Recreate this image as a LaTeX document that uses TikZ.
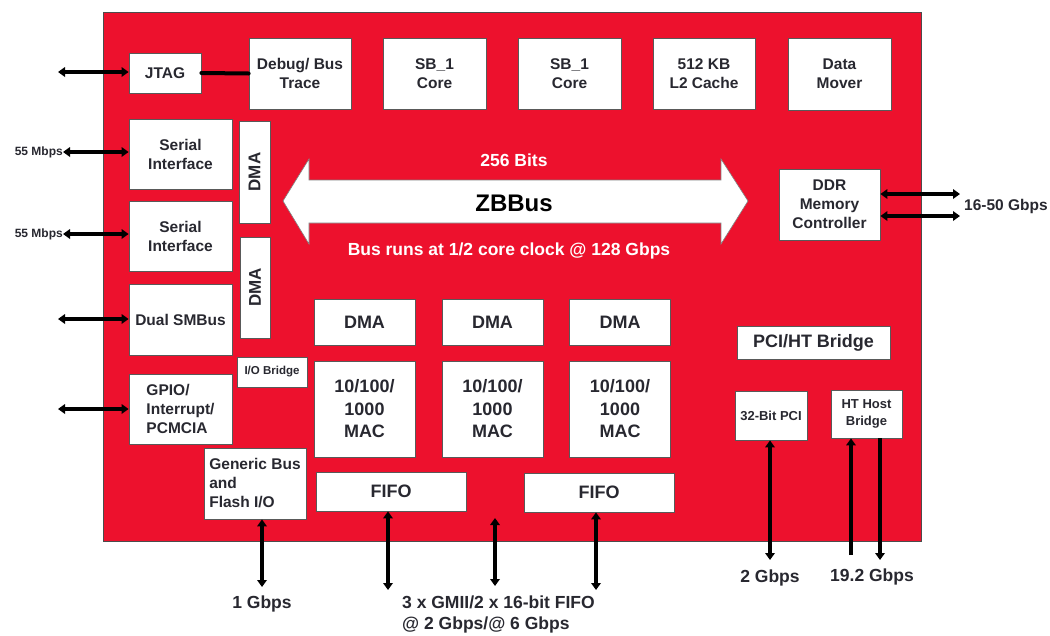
\documentclass[tikz,border=0pt]{standalone}
\usepackage{fontspec}
\setmainfont{Liberation Sans}
\usetikzlibrary{arrows.meta}
\definecolor{chipred}{RGB}{237,17,45}
\definecolor{txt}{RGB}{40,40,48}
\begin{document}
\begin{tikzpicture}[x=1pt,y=-1pt,
  box/.style={draw=black!65, line width=0.8pt, fill=white, inner sep=1pt, text=txt,
    font=\bfseries\fontsize{15.5}{19}\selectfont, align=center},
  bigbox/.style={box, font=\bfseries\fontsize{18}{22.5}\selectfont},
  smallbox/.style={box, font=\bfseries\fontsize{13.5}{17}\selectfont},
  tinybox/.style={box, font=\bfseries\fontsize{11.5}{14}\selectfont},
  tip/.tip={Triangle[length=7pt,width=9.5pt]},
  link/.style={line width=4pt, tip-tip},
  uplink/.style={line width=4.5pt, -tip},
  lbl/.style={text=txt, inner sep=0pt, font=\bfseries\fontsize{17.5}{21}\selectfont},
  midlbl/.style={text=txt, inner sep=0pt, font=\bfseries\fontsize{15.5}{19}\selectfont},
  smalllbl/.style={text=txt, inner sep=0pt, font=\bfseries\fontsize{12}{14}\selectfont},
  buslbl/.style={text=white, inner sep=0pt, font=\bfseries\fontsize{17.5}{21}\selectfont}
]
\useasboundingbox (0,0) rectangle (1050,635);
\fill[white] (0,0) rectangle (1050,635);
% chip body
\draw[fill=chipred, draw=black!70, line width=1pt] (103,12) rectangle (921,541);

% top row
\node[box, minimum width=72pt, minimum height=40pt] (jtag) at (165,73) {JTAG};
\node[box, minimum width=102pt, minimum height=71pt] (debug) at (300,73.5) {Debug/ Bus\\Trace};
\node[box, minimum width=103pt, minimum height=71pt] (sb1) at (434.5,73.5) {SB\_1\\Core};
\node[box, minimum width=103pt, minimum height=71pt] (sb2) at (569.5,73.5) {SB\_1\\Core};
\node[box, minimum width=102pt, minimum height=71pt] (l2) at (704,73.5) {512 KB\\L2 Cache};
\node[box, minimum width=103pt, minimum height=72pt] (mover) at (839.5,74) {Data\\Mover};

% left column
\node[box, minimum width=103pt, minimum height=70pt] (ser1) at (180.5,154) {Serial\\Interface};
\node[box, minimum width=31pt, minimum height=102pt] (dmav1) at (254.5,172) {\fontsize{17}{20}\selectfont\rotatebox{90}{DMA}};
\node[box, minimum width=103pt, minimum height=70pt] (ser2) at (180.5,236) {Serial\\Interface};
\node[box, minimum width=30pt, minimum height=101pt] (dmav2) at (255,287.5) {\fontsize{17}{20}\selectfont\rotatebox{90}{DMA}};
\node[box, minimum width=103pt, minimum height=71pt] (smbus) at (180.5,319.5) {Dual SMBus};
\node[tinybox, minimum width=70pt, minimum height=30pt] (iobr) at (272,372) {I/O Bridge};
\node[box, minimum width=103pt, minimum height=70pt, align=left] (gpio) at (180.5,409) {GPIO/\\Interrupt/\\PCMCIA};
\node[box, minimum width=102pt, minimum height=71pt, align=left] (gen) at (255,483.5) {Generic Bus\\and\\Flash I/O};

% ZBBus
\draw[fill=white, draw=black!50, line width=0.6pt]
  (283,201) -- (309,159) -- (309,180) -- (721,180) -- (721,159) -- (748,201)
  -- (721,244) -- (721,223) -- (309,223) -- (309,244) -- cycle;
\node[inner sep=0pt, font=\bfseries\fontsize{24}{28}\selectfont, text=black] (zb) at (514,203) {ZBBus};
\node[buslbl] (bits) at (514,160) {256 Bits};
\node[buslbl] (runs) at (509,251) {Bus runs at 1/2 core clock @ 128 Gbps};

% DDR
\node[box, minimum width=101pt, minimum height=71pt] (ddr) at (829.5,204.5) {DDR\\Memory\\Controller};

% Ethernet blocks
\node[bigbox, minimum width=101pt, minimum height=46pt] (dma1) at (364.5,322) {DMA};
\node[bigbox, minimum width=101pt, minimum height=46pt] (dma2) at (492.5,322) {DMA};
\node[bigbox, minimum width=101pt, minimum height=46pt] (dma3) at (620,322) {DMA};
\node[bigbox, minimum width=101pt, minimum height=96pt] (mac1) at (364.5,409) {10/100/\\1000\\MAC};
\node[bigbox, minimum width=101pt, minimum height=96pt] (mac2) at (492.5,409) {10/100/\\1000\\MAC};
\node[bigbox, minimum width=101pt, minimum height=96pt] (mac3) at (620,409) {10/100/\\1000\\MAC};
\node[bigbox, minimum width=150pt, minimum height=39pt] (fifo1) at (391,491.5) {FIFO};
\node[bigbox, minimum width=150pt, minimum height=39pt] (fifo2) at (599,492.5) {FIFO};

% PCI / HT
\node[bigbox, minimum width=153pt, minimum height=33pt] (pcibr) at (813.5,342.5) {PCI/HT Bridge};
\node[tinybox, font=\bfseries\fontsize{13}{16}\selectfont, minimum width=72pt, minimum height=49pt] (pci) at (771,415.5) {32-Bit PCI};
\node[tinybox, font=\bfseries\fontsize{13}{16.5}\selectfont, minimum width=71pt, minimum height=48pt] (ht) at (866.5,414) {HT Host\\Bridge};

% left connectors
\coordinate (jtagout) at (58,72);
\draw[link] (jtagout) -- (jtagout -| jtag.west);
\draw[line width=4pt, line cap=round] (jtag.east) -- (debug.west);
\node[smalllbl, anchor=east] (s1lbl) at (63,152) {55 Mbps};
\draw[link] (s1lbl.east) -- (s1lbl.east -| ser1.west);
\node[smalllbl, anchor=east] (s2lbl) at (63,234) {55 Mbps};
\draw[link] (s2lbl.east) -- (s2lbl.east -| ser2.west);
\coordinate (smout) at (58,319);
\draw[link] (smout) -- (smout -| smbus.west);
\coordinate (gpout) at (58,409);
\draw[link] (gpout) -- (gpout -| gpio.west);

% DDR connectors
\coordinate (ddr1) at (960,194);
\coordinate (ddr2) at (960,216);
\draw[link] (ddr1 -| ddr.east) -- (ddr1);
\draw[link] (ddr2 -| ddr.east) -- (ddr2);
\node[midlbl, anchor=west] (ddrlbl) at (964,206) {16-50 Gbps};

% bottom connectors
\coordinate (genout) at (262,587);
\draw[link, line width=4.5pt] (genout |- gen.south) -- (genout);
\node[lbl] (gbps1) at (262,604) {1 Gbps};
\coordinate (f1out) at (388,590);
\draw[link, line width=4.5pt] (f1out |- fifo1.south) -- (f1out);
\coordinate (midtop) at (495,518);
\coordinate (midout) at (495,586);
\draw[link, line width=4.5pt] (midtop) -- (midout);
\coordinate (f2out) at (596,590);
\draw[link, line width=4.5pt] (f2out |- fifo2.south) -- (f2out);
\node[lbl, anchor=west, align=left, font=\bfseries\fontsize{17.5}{21}\selectfont] (gmii) at (402,614) {3 x GMII/2 x 16-bit FIFO\\@ 2 Gbps/@ 6 Gbps};

\coordinate (pciout) at (770,560);
\draw[link, line width=4.5pt] (pciout |- pci.south) -- (pciout);
\node[lbl] (gbps2) at (770,578) {2 Gbps};
\coordinate (htin) at (851,555);
\coordinate (htout) at (880,560);
\draw[uplink] (htin) -- (htin |- ht.south);
\draw[uplink] (htout |- ht.south) -- (htout);
\node[lbl] (gbps19) at (872,577) {19.2 Gbps};
\end{tikzpicture}
\end{document}
